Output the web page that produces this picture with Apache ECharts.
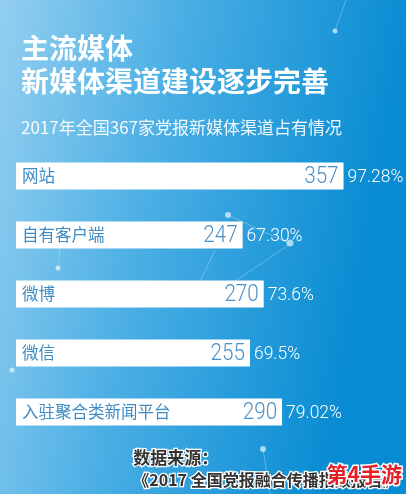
<!DOCTYPE html>
<html><head><meta charset="utf-8">
<script src="https://cdn.jsdelivr.net/npm/echarts@6/dist/echarts.min.js"></script>
<style>html,body{margin:0;padding:0;}#c{width:406px;height:494px;}</style>
</head><body><div id="c"></div>
<script>
const categories = ['网站','自有客户端','微博','微信','入驻聚合类新闻平台'];
const counts = [357, 247, 270, 255, 290];
const percents = ['97.28%','67.30%','73.6%','69.5%','79.02%'];
const titleLines = ['主流媒体','新媒体渠道建设逐步完善'];
const subtitle = '2017年全国367家党报新媒体渠道占有情况';
const sourceLines = ['数据来源：','《2017 全国党报融合传播指数报告》'];

const chart = echarts.init(document.getElementById('c'));
const cjk = '"Noto Sans CJK SC", "Noto Sans", sans-serif';
const deco = 'rgba(220,240,255,0.35)';
const dot = 'rgba(230,245,255,0.7)';
chart.setOption({
  backgroundColor: {type:'linear', x:0, y:0, x2:1, y2:0.15, colorStops:[
    {offset:0, color:'#93cff0'},{offset:0.45, color:'#49aee4'},{offset:1, color:'#078bd2'}]},
  title: [
    {text: titleLines.join('\n'), left: 16, top: 27, textStyle:{color:'#ffffff', fontSize:28, fontWeight:'bold', lineHeight:33, fontFamily:cjk}},
    {text: subtitle, left: 16, top: 114, textStyle:{color:'rgba(255,255,255,0.92)', fontSize:17, fontWeight:'normal', fontFamily:cjk}}
  ],
  graphic: [
    {type:'line', shape:{x1:346,y1:0,x2:335,y2:31}, style:{stroke:deco, lineWidth:1}, z:0},
    {type:'circle', shape:{cx:335,cy:31,r:2.5}, style:{fill:dot}, z:0},
    {type:'line', shape:{x1:228,y1:215,x2:290,y2:244}, style:{stroke:deco, lineWidth:1}, z:0},
    {type:'line', shape:{x1:290,y1:244,x2:222,y2:290}, style:{stroke:deco, lineWidth:1}, z:0},
    {type:'line', shape:{x1:215,y1:250,x2:196,y2:290}, style:{stroke:deco, lineWidth:1}, z:0},
    {type:'circle', shape:{cx:228,cy:215,r:3}, style:{fill:dot}, z:0},
    {type:'circle', shape:{cx:290,cy:243,r:3.5}, style:{fill:dot}, z:0},
    {type:'line', shape:{x1:60,y1:248,x2:58,y2:268}, style:{stroke:deco, lineWidth:1}, z:0},
    {type:'circle', shape:{cx:58,cy:268,r:2.5}, style:{fill:dot}, z:0},
    {type:'circle', shape:{cx:12,cy:370,r:2.5}, style:{fill:dot}, z:0},
    {type:'line', shape:{x1:263,y1:449,x2:270,y2:494}, style:{stroke:deco, lineWidth:1}, z:0},
    {type:'circle', shape:{cx:263,cy:449,r:3}, style:{fill:dot}, z:0},
    {type:'text', left:132, top:448, style:{text:sourceLines[0], fill:'#333333', stroke:'#ffffff', lineWidth:2.5, font:'bold 17px "Noto Sans CJK SC", sans-serif'}, z:10},
    {type:'text', left:132, top:471, style:{text:sourceLines[1], fill:'#333333', stroke:'#ffffff', lineWidth:2.5, font:'bold 16px "Noto Sans CJK SC", sans-serif'}, z:10},
    {type:'text', left:325, top:462, style:{text:'第4手游', fill:'#e41f26', stroke:'#ffffff', lineWidth:3, font:'bold 21px "Noto Sans CJK SC", sans-serif'}, z:11}
  ],
  grid: {left:16, right:23, top:146.5, height:295, containLabel:false},
  xAxis: {type:'value', min:0, max:400, show:false},
  yAxis: {type:'category', data:categories, inverse:true, show:false},
  series: [
    {type:'bar', data:counts, barWidth:27, itemStyle:{color:'#ffffff'}, silent:true,
     label:{show:true, position:'insideLeft', distance:6, formatter:'{b}', color:'#3d8cc6', fontSize:16.5, fontFamily:cjk}},
    {type:'custom', data:counts.map((v,i)=>[v,i]), encode:{x:0, y:1}, silent:true, z:5,
     renderItem:function(params, api){
       const pt = api.coord([api.value(0), api.value(1)]);
       const i = params.dataIndex;
       return {type:'group', children:[
         {type:'text', x:pt[0]-5, y:pt[1]+1, scaleX:0.86, scaleY:1, originX:0, originY:0,
          style:{text:String(counts[i]), fill:'#4a8fc6', font:'300 24px Roboto, sans-serif', align:'right', verticalAlign:'middle'}},
         {type:'text', x:pt[0]+4, y:pt[1]+1, scaleX:0.92, scaleY:1, originX:0, originY:0,
          style:{text:percents[i], fill:'#ffffff', font:'300 19px Roboto, sans-serif', align:'left', verticalAlign:'middle'}}
       ]};
     }}
  ],
  animation:false
});
</script></body></html>
